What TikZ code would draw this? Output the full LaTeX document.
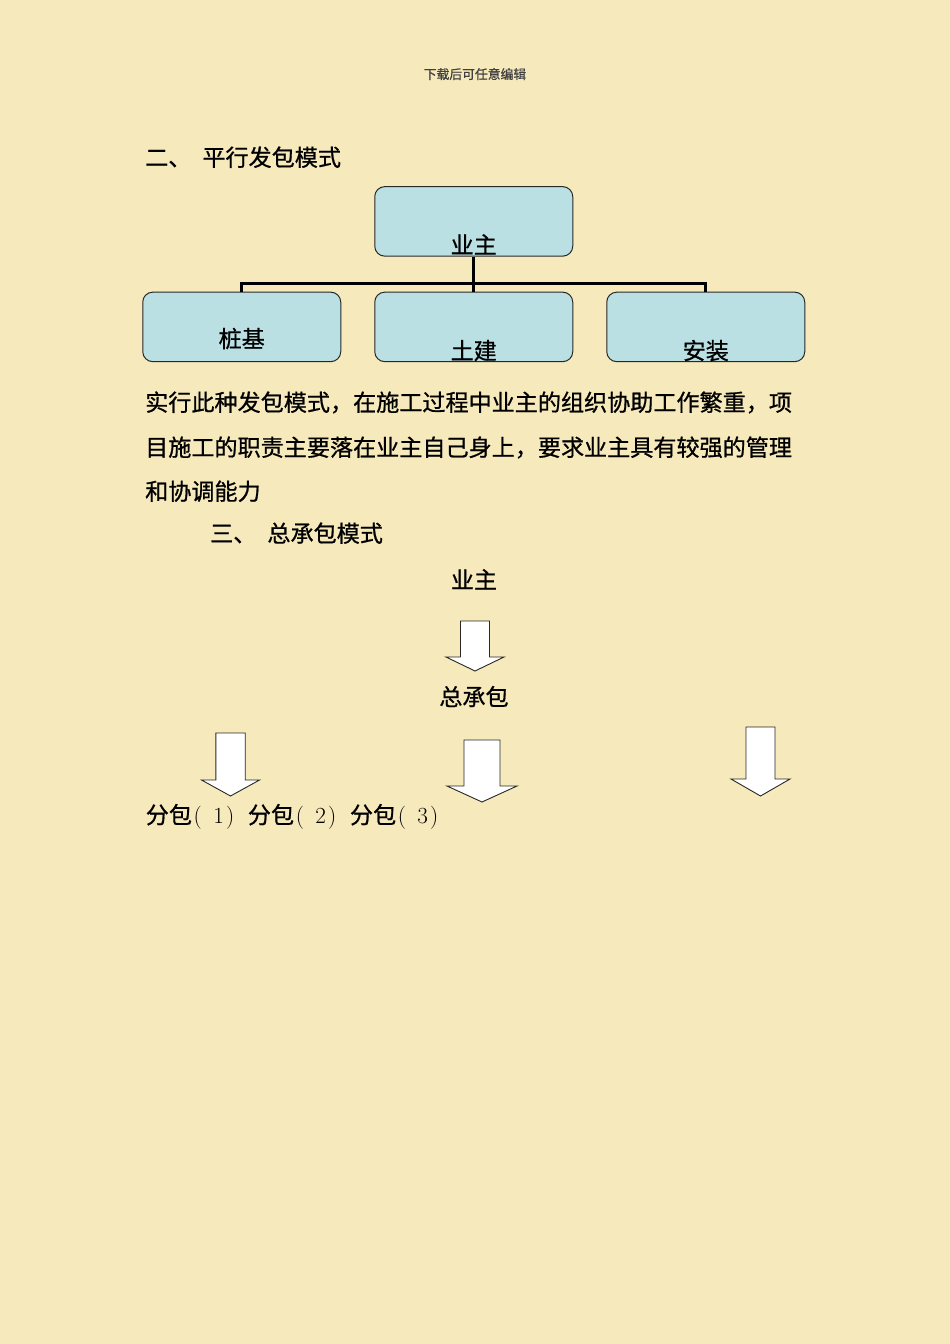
\documentclass[tikz,border=0pt]{standalone}
\usepackage{fontspec}
\newfontfamily\cjk[FakeBold=0.8]{Noto Sans CJK SC}
\usetikzlibrary{positioning}
\definecolor{paper}{RGB}{246,233,187}
\definecolor{boxblue}{RGB}{186,224,228}
\definecolor{edge}{RGB}{40,40,40}
\newcommand\halfch[1]{\makebox[0.5em]{\rmfamily #1}}
\tikzset{
  body/.style = {font=\cjk\fontsize{23.1}{27}\selectfont, inner sep=0pt, text=black},
  orgbox/.style = {draw=edge, fill=boxblue, rounded corners=10pt, line width=1pt,
                   minimum width=198pt, minimum height=69.5pt, inner sep=0pt,
                   font=\cjk\fontsize{23.1}{27}\selectfont, node distance=35pt and 33pt},
}

\begin{document}
\begin{tikzpicture}[x=1pt, y=-1pt,
        link/.style     = {line width=2.7pt, black},
        bigarrow/.style = {draw=edge, fill=white, line width=0.9pt, line join=miter},
    ]
    \fill[paper] (0,0) rectangle (950,1344);
    \useasboundingbox (0,0) rectangle (950,1344);

    % page note
    \node[font=\cjk\fontsize{12.8}{15}\selectfont, text=black!75, anchor=base, inner sep=0pt]
        (note) at (475,79) {下载后可任意编辑};

    % parallel contracting
    \node[body, anchor=base west] (title2) at (145,166) {二、\hspace{11pt}平行发包模式};

    \node[orgbox, text height=66.9pt, text depth=2.6pt] (owner) at (473.75,221.4) {业主};
    \node[orgbox, text height=67.2pt, text depth=2.3pt, below=of owner] (civil) {土建};
    \node[orgbox, text height=55.2pt, text depth=14.3pt, left=of civil] (pile) {桩基};
    \node[orgbox, text height=67.2pt, text depth=2.3pt, right=of civil] (install) {安装};

    \draw[link] (owner.south) -- (civil.north);
    \draw[link] (pile.north) -- ++(0,-8) -| (install.north);

    \node[body, anchor=base west] (para1) at (145,411) {实行此种发包模式，在施工过程中业主的组织协助工作繁重，项};
    \node[body, anchor=base west] (para2) at (145,456) {目施工的职责主要落在业主自己身上，要求业主具有较强的管理};
    \node[body, anchor=base west] (para3) at (145,500) {和协调能力};

    % general contracting
    \node[body, anchor=base west] (title3) at (210,542) {三、\hspace{11pt}总承包模式};
    \node[body, anchor=base] (owner2) at (474,588.5) {业主};
    \node[body, anchor=base] (general) at (474,705.5) {总承包};
    \node[body, anchor=base west] (subs) at (145.6,823.5)
        {分包\halfch{(}\hspace{0.4em}\halfch{1}\halfch{)}\hspace{12pt}分包\halfch{(}\hspace{0.4em}\halfch{2}\halfch{)}\hspace{12pt}分包\halfch{(}\hspace{0.4em}\halfch{3}\halfch{)}};

    \foreach \cx/\sw/\hd/\ytop/\ybase/\ytip in {475/14.5/29/621/657/671, 230.5/14.7/29/733/780/796,
                                                482/18/35/740/786/802, 760.5/14.5/29.5/727/779/796}
        \draw[bigarrow] (\cx-\sw,\ytop) -- (\cx+\sw,\ytop) -- (\cx+\sw,\ybase) -- (\cx+\hd,\ybase)
            -- (\cx,\ytip) -- (\cx-\hd,\ybase) -- (\cx-\sw,\ybase) -- cycle;

\end{tikzpicture}
\end{document}
